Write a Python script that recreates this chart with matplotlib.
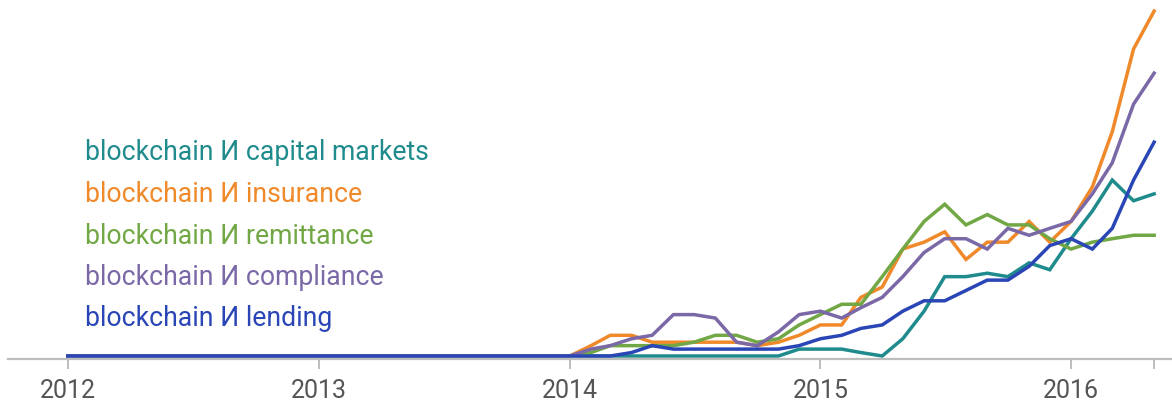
import numpy as np
import pandas as pd
import matplotlib
matplotlib.use('Agg')
import matplotlib.pyplot as plt
import matplotlib.dates as mdates

plt.rcParams['font.family'] = ['Roboto', 'DejaVu Sans']

# monthly values, Jan 2012 .. May 2016 (2012-2013 all zero)
months = pd.date_range('2012-01-01', '2016-05-01', freq='MS')
zeros = [0] * 24

capital_markets = zeros + [0, 0, 0, 0, 0, 0, 0, 0, 0, 0, 0, 2, 2, 2, 1, 0, 5, 13, 23, 23,
                           24, 23, 27, 25, 34, 42, 51, 45, 47]
insurance = zeros + [0, 3, 6, 6, 4, 4, 4, 4, 4, 3, 4, 6, 9, 9, 17, 20, 31, 33, 36, 28,
                     33, 33, 39, 33, 39, 49, 65, 89, 100]
remittance = zeros + [0, 1, 3, 3, 3, 3, 4, 6, 6, 4, 5, 9, 12, 15, 15, 23, 31, 39, 44, 38,
                      41, 38, 38, 34, 31, 33, 34, 35, 35]
compliance = zeros + [0, 2, 3, 5, 6, 12, 12, 11, 4, 3, 7, 12, 13, 11, 14, 17, 23, 30, 34, 34,
                      31, 37, 35, 37, 39, 47, 56, 73, 82]
lending = zeros + [0, 0, 0, 1, 3, 2, 2, 2, 2, 2, 2, 3, 5, 6, 8, 9, 13, 16, 16, 19,
                   22, 22, 26, 32, 34, 31, 37, 51, 62]

labels = ['blockchain И capital markets', 'blockchain И insurance',
          'blockchain И remittance', 'blockchain И compliance', 'blockchain И lending']
colors = ['#1f8b8c', '#f0892a', '#71a744', '#7a68a7', '#2a45b5']
series = [capital_markets, insurance, remittance, compliance, lending]

W, H = 1172, 403
fig = plt.figure(figsize=(W / 100, H / 100), dpi=100)
ax = fig.add_axes([8 / W, (H - 359) / H, 1164 / W, 359 / H])

for vals, c in zip(series, colors):
    ax.plot(months, vals, color=c, lw=2.5, solid_joinstyle='miter', clip_on=False)

# axis range matched to the reference's pixel layout
ax.set_xlim(pd.Timestamp('2011-10-06'), pd.Timestamp('2016-05-27'))
ax.set_ylim(-0.87, 103.2)

for s in ['top', 'right', 'left']:
    ax.spines[s].set_visible(False)
ax.spines['bottom'].set_color('#bdbdbd')
ax.spines['bottom'].set_linewidth(1.6)

years = pd.date_range('2012-01-01', '2016-01-01', freq='YS')
ax.set_xticks(years)
ax.xaxis.set_major_formatter(mdates.DateFormatter('%Y'))
ax.set_xticks([months[-1]], minor=True)
ax.tick_params(axis='x', which='both', length=7, width=1.4, color='#bdbdbd',
               labelsize=18, labelcolor='#555555', pad=7.5)
ax.set_yticks([])

# coloured labels in place of a legend
baselines = [159.5, 202, 244, 285, 326.5]
for lab, c, yb in zip(labels, colors, baselines):
    fig.text(85 / W, (H - yb) / H, lab, color=c, fontsize=19.2, va='baseline', ha='left')

fig.savefig('out.png', dpi=100)
